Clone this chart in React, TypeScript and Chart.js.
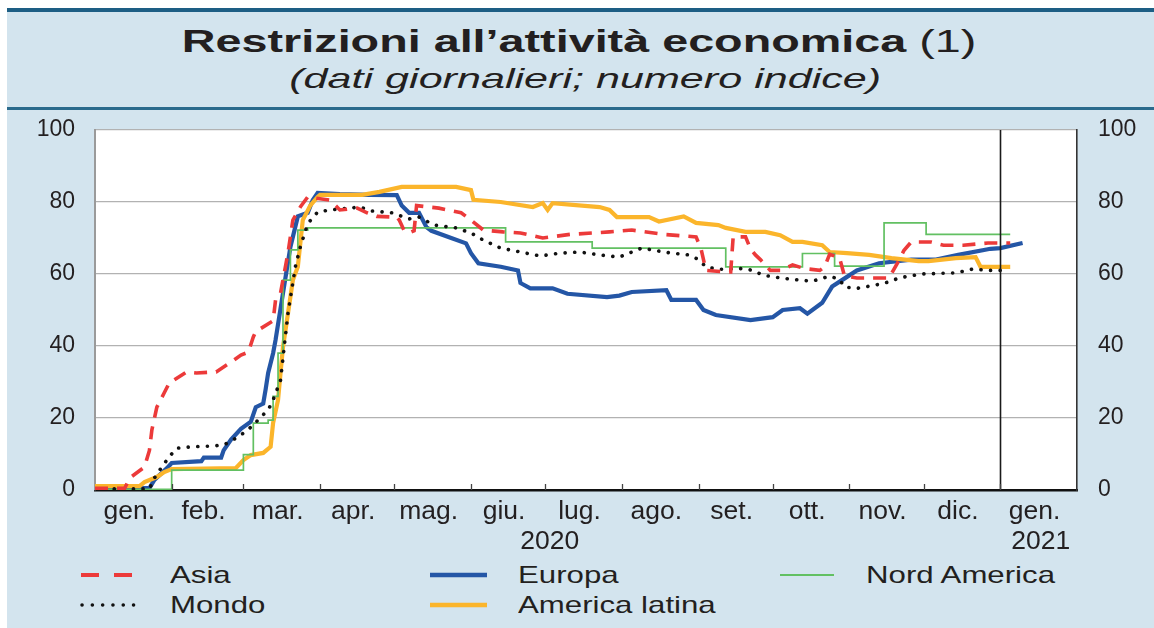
import React, { useEffect, useRef } from "react";
import { Chart, registerables } from "chart.js";

Chart.register(...registerables);

// ---------- axis / label data ----------
const monthStarts = [0, 31, 60, 91, 121, 152, 182, 213, 244, 274, 305, 335, 366, 397];
const monthLabels = ["gen.", "feb.", "mar.", "apr.", "mag.", "giu.", "lug.", "ago.", "set.", "ott.", "nov.", "dic.", "gen."];
const yearLabels = ["2020", "2021"];
const yTicks = [0, 20, 40, 60, 80, 100];
const yearBreakDay = 366;

// ---------- series (day of 2020, index value) ----------
const asiaDays = [0, 12, 14, 20, 22, 23, 25, 28, 30, 37, 41, 49, 56, 59, 62, 64, 65, 72, 73, 75, 78, 80, 83, 86, 95, 99, 106, 110, 114, 122, 123, 125, 127, 129, 130, 139, 148, 152, 157, 165, 172, 181, 192, 208, 217, 230, 243, 245, 247, 254, 257, 258, 263, 265, 267, 269, 273, 277, 282, 287, 293, 295, 297, 301, 303, 308, 321, 324, 327, 330, 338, 343, 351, 361, 370];
const asiaValues = [0.5, 0.5, 3.3, 6.4, 11, 16.7, 23, 27, 29.7, 32.8, 32.5, 32.8, 36, 37.5, 38.3, 42.5, 44, 47, 52.8, 54.7, 65.8, 75, 78.6, 81.4, 80.5, 77.8, 78.3, 77, 76, 75.8, 75, 72, 71.4, 72, 79, 78.3, 77, 75, 72.2, 71.7, 71.4, 70, 71, 71.7, 72.2, 71, 70.3, 67, 61, 60.6, 60.6, 70.3, 70.3, 67, 65.3, 64, 61, 61, 62.5, 61.5, 61, 62, 65.5, 64.5, 59.5, 58.9, 58.9, 62.5, 66.5, 68.9, 68.9, 68, 68, 68.6, 68.6];

const mondoDays = [0, 22, 24, 27, 30, 33, 39, 47, 52, 56, 60, 64, 67, 70, 72, 75, 78, 81, 83, 86, 90, 95, 103, 107, 112, 120, 127, 131, 137, 146, 152, 157, 164, 172, 180, 188, 196, 204, 212, 217, 221, 231, 240, 244, 247, 252, 262, 266, 270, 277, 285, 290, 297, 301, 303, 308, 316, 321, 325, 334, 348, 355, 361, 368];
const mondoValues = [0.3, 0.3, 3.3, 6.4, 9.2, 11.6, 12, 12.2, 12.5, 14, 15.8, 18, 20.3, 22.2, 25, 30.5, 49, 62, 67.5, 74, 77.2, 77.8, 78.3, 78.6, 77.5, 77, 75.3, 75.8, 73.6, 72.8, 71.4, 69.4, 67.2, 66.1, 65, 65.8, 66.1, 65.3, 64.7, 66.1, 67.2, 66, 65.3, 64, 62, 61.3, 61.5, 61, 59.7, 58.9, 58.3, 58, 59.4, 58.5, 56.4, 56, 57, 57.8, 58.9, 60, 60.3, 61.4, 61, 61];

const nordDays = [0, 31, 60, 64, 70, 72, 74, 76, 79, 82, 86, 166, 201, 255, 286, 299, 319, 336, 370];
const nordValues = [0.2, 5.5, 9.8, 18.6, 19.4, 26, 38, 58.3, 66.7, 72.2, 72.8, 68.9, 67.2, 62, 65.7, 62.2, 74.2, 71, 71];

const europaDays = [0, 22, 24, 29, 31, 43, 44, 51, 52, 55, 59, 63, 65, 68, 69, 70, 72, 73, 76, 79, 82, 86, 88, 90, 99, 111, 122, 124, 127, 131, 134, 136, 144, 150, 152, 155, 164, 171, 172, 176, 185, 191, 207, 212, 217, 231, 233, 243, 246, 251, 265, 274, 278, 285, 288, 294, 298, 302, 308, 317, 330, 340, 349, 362, 366, 375];
const europaValues = [0.5, 0.5, 2.8, 6, 7.5, 8, 9, 9, 11, 14, 17, 19, 23, 24, 28, 32.5, 38, 41.7, 54.7, 67.5, 76, 77, 80.5, 82.5, 82.2, 82, 81.9, 79, 77, 77, 73, 72, 70, 68.5, 65.8, 63, 62, 61, 57.5, 56, 56, 54.5, 53.6, 54, 55, 55.5, 52.8, 52.8, 50, 48.6, 47.2, 48, 50, 50.5, 49, 52, 56.5, 58.3, 61, 63, 64, 64, 65.3, 67, 67.2, 68.6];

const latinaDays = [0, 18, 20, 25, 28, 31, 57, 60, 63, 68, 71, 72, 74, 75, 76, 78, 80, 82, 84, 87, 90, 91, 108, 115, 124, 146, 152, 153, 164, 177, 181, 183, 185, 204, 208, 211, 224, 228, 238, 243, 252, 255, 263, 271, 277, 282, 286, 294, 297, 304, 313, 322, 333, 337, 348, 356, 358, 370];
const latinaValues = [1.1, 1.1, 2.2, 3.6, 5, 5.8, 6.1, 8.3, 9.7, 10.3, 12, 18.6, 25, 32.5, 39.7, 49, 58.3, 62, 75, 79, 81.4, 82, 82, 82.8, 84.2, 84.2, 83.3, 80.6, 80, 78.6, 79.7, 77.8, 79.7, 78.6, 77.8, 75.8, 75.8, 74.6, 76, 74.2, 73.6, 72.8, 71.7, 71.7, 70.8, 68.9, 68.9, 68, 66.1, 65.8, 65.3, 64.4, 63.6, 63.6, 64.4, 64.7, 62, 62];

const seriesNames = ["Asia", "Mondo", "Nord America", "America latina", "Europa"];

const FONT = "'Liberation Sans', Arial, Helvetica, sans-serif";
const TEXT = "#231f20";
const RED = "#ec3a3a";
const BLUE = "#2456a6";
const GREEN = "#62c062";
const YELLOW = "#fbb52b";

const toPoints = (d: number[], v: number[]) => d.map((x, i) => ({ x, y: v[i] }));

const decorPlugin = {
  id: "decor",
  beforeDraw(chart: any) {
    const { ctx, chartArea: a } = chart;
    ctx.save();
    ctx.fillStyle = "#ffffff";
    ctx.fillRect(a.left, a.top, a.right - a.left, a.bottom - a.top);
    ctx.restore();
  },
  afterDatasetsDraw(chart: any) {
    const { ctx, chartArea: a } = chart;
    const x = chart.scales.x;
    ctx.save();
    const px = Math.round(x.getPixelForValue(yearBreakDay)) + 0.5;
    ctx.strokeStyle = "#1a1a1a";
    ctx.lineWidth = 1.6;
    ctx.beginPath();
    ctx.moveTo(px, a.top);
    ctx.lineTo(px, a.bottom);
    ctx.stroke();
    ctx.strokeStyle = "#444";
    ctx.lineWidth = 1.3;
    monthStarts.slice(1, -1).forEach((m) => {
      const p = Math.round(x.getPixelForValue(m)) + 0.5;
      ctx.beginPath();
      ctx.moveTo(p, a.bottom);
      ctx.lineTo(p, a.bottom - 6);
      ctx.stroke();
    });
    ctx.restore();
  },
};

function LegendLine(props: { x: number; y: number; w: number; color: string; width: number; dash?: string; cap?: any }) {
  const { x, y, w, color, width, dash, cap } = props;
  return (
    <svg style={{ position: "absolute", left: x, top: y - 6, overflow: "visible" }} width={w} height={12}>
      <line x1={0} y1={6} x2={w} y2={6} stroke={color} strokeWidth={width} strokeDasharray={dash} strokeLinecap={cap || "butt"} />
    </svg>
  );
}

function LegendText(props: { x: number; y: number; text: string }) {
  return (
    <div
      style={{
        position: "absolute",
        left: props.x,
        top: props.y - 13.4,
        fontSize: 24,
        lineHeight: "26.8px",
        whiteSpace: "nowrap",
        color: TEXT,
        transform: "scaleX(1.3)",
        transformOrigin: "left center",
      }}
    >
      {props.text}
    </div>
  );
}

export default function App() {
  const canvasRef = useRef<HTMLCanvasElement | null>(null);

  useEffect(() => {
    document.body.style.margin = "0";
    const canvas = canvasRef.current;
    if (!canvas) return;
    const tickFont = { family: FONT, size: 23 };
    const chart = new Chart(canvas, {
      type: "line",
      data: {
        datasets: [
          { label: seriesNames[0], data: toPoints(asiaDays, asiaValues), borderColor: RED, borderWidth: 3.6, borderDash: [13, 9], pointRadius: 0, order: 0 },
          { label: seriesNames[1], data: toPoints(mondoDays, mondoValues), borderColor: "#111111", borderWidth: 3.6, borderDash: [0.1, 9.5], borderCapStyle: "round", pointRadius: 0, order: 1 },
          { label: seriesNames[2], data: toPoints(nordDays, nordValues), borderColor: GREEN, borderWidth: 1.7, stepped: "before", pointRadius: 0, order: 2 },
          { label: seriesNames[3], data: toPoints(latinaDays, latinaValues), borderColor: YELLOW, borderWidth: 4.2, pointRadius: 0, order: 3 },
          { label: seriesNames[4], data: toPoints(europaDays, europaValues), borderColor: BLUE, borderWidth: 4.2, pointRadius: 0, order: 4 },
        ] as any,
      },
      options: {
        animation: false,
        responsive: true,
        maintainAspectRatio: false,
        layout: { padding: { top: 20, left: 0, right: 0, bottom: 0 } },
        plugins: { legend: { display: false }, tooltip: { enabled: false }, title: { display: false } },
        elements: { line: { tension: 0 } },
        scales: {
          x: {
            type: "linear",
            position: "bottom",
            min: monthStarts[0],
            max: monthStarts[monthStarts.length - 1],
            weight: 0,
            afterBuildTicks: (s: any) => {
              s.ticks = monthLabels.map((_, i) => ({ value: (monthStarts[i] + monthStarts[i + 1]) / 2 }));
            },
            ticks: {
              autoSkip: false,
              maxRotation: 0,
              font: { family: FONT, size: 26.5 },
              color: TEXT,
              padding: 6,
              labelOffset: -4,
              callback: (_v: any, i: number) => monthLabels[i],
            },
            grid: { display: false, drawTicks: false },
            border: { display: true, color: "#111111", width: 2.6 },
            afterFit: (s: any) => {
              s.height = 36;
            },
          },
          xYear: {
            type: "linear",
            position: "bottom",
            min: monthStarts[0],
            max: monthStarts[monthStarts.length - 1],
            weight: 1,
            afterBuildTicks: (s: any) => {
              s.ticks = [
                { value: (monthStarts[0] + monthStarts[12]) / 2 },
                { value: (monthStarts[12] + monthStarts[13]) / 2 },
              ];
            },
            ticks: {
              autoSkip: false,
              maxRotation: 0,
              font: { family: FONT, size: 26.5 },
              color: TEXT,
              padding: 0,
              labelOffset: 2,
              callback: (_v: any, i: number) => yearLabels[i],
            },
            grid: { display: false, drawTicks: false },
            border: { display: false },
            afterFit: (s: any) => {
              s.height = 30;
            },
          },
          y: {
            position: "left",
            min: 0,
            max: 100,
            afterBuildTicks: (s: any) => {
              s.ticks = yTicks.map((v) => ({ value: v }));
            },
            ticks: { font: tickFont, color: TEXT, padding: 3 },
            grid: { color: "#b2b2b2", lineWidth: 1.3, drawTicks: true, tickLength: 17, tickColor: "rgba(0,0,0,0)" },
            border: { color: "#9a9a9a", width: 2 },
            afterFit: (s: any) => {
              s.width = 95;
            },
          },
          y2: {
            position: "right",
            min: 0,
            max: 100,
            afterBuildTicks: (s: any) => {
              s.ticks = yTicks.map((v) => ({ value: v }));
            },
            ticks: { font: tickFont, color: TEXT, padding: 3 },
            grid: { display: true, drawOnChartArea: false, drawTicks: true, tickLength: 18, tickColor: "rgba(0,0,0,0)" },
            border: { color: "#333333", width: 1.6 },
            afterFit: (s: any) => {
              s.width = 77;
            },
          },
        } as any,
      },
      plugins: [decorPlugin],
    });
    return () => chart.destroy();
  }, []);

  return (
    <div
      style={{
        position: "absolute",
        left: 0,
        top: 0,
        width: 1154,
        height: 628,
        background: "#ffffff",
        overflow: "hidden",
        fontFamily: FONT,
      }}
    >
      <div style={{ position: "absolute", left: 7, top: 8, right: 0, bottom: 0, background: "#d3e4ee" }} />
      <div style={{ position: "absolute", left: 7, top: 8, right: 0, height: 4, background: "#1d5e84" }} />
      <div style={{ position: "absolute", left: 7, top: 107, right: 0, height: 2.5, background: "#2a6a8c" }} />

      <div style={{ position: "absolute", left: 2, top: 24, width: 1154, textAlign: "center", whiteSpace: "nowrap", color: TEXT }}>
        <span style={{ display: "inline-block", fontSize: 32, lineHeight: "35.7px", transform: "scaleX(1.46)", transformOrigin: "center" }}>
          <b>Restrizioni all’attività economica</b> (1)
        </span>
      </div>
      <div style={{ position: "absolute", left: 8, top: 62.7, width: 1154, textAlign: "center", whiteSpace: "nowrap", color: TEXT }}>
        <span style={{ display: "inline-block", fontSize: 28, lineHeight: "31.3px", fontStyle: "italic", transform: "scaleX(1.54)", transformOrigin: "center" }}>
          (dati giornalieri; numero indice)
        </span>
      </div>

      <div style={{ position: "absolute", left: 0, top: 110, width: 1154, height: 446 }}>
        <canvas ref={canvasRef} />
      </div>

      <LegendLine x={81} y={575} w={52} color={RED} width={4} dash="18 15" />
      <LegendText x={170} y={575} text={seriesNames[0]} />
      <LegendLine x={430} y={575} w={57} color={BLUE} width={4.5} />
      <LegendText x={518} y={575} text={seriesNames[4]} />
      <LegendLine x={780} y={575} w={54} color={GREEN} width={2} />
      <LegendText x={866} y={575} text={seriesNames[2]} />
      <LegendLine x={82} y={605} w={52} color="#111111" width={3.5} dash="0.1 10.2" cap="round" />
      <LegendText x={170} y={605} text={seriesNames[1]} />
      <LegendLine x={430} y={605} w={57} color={YELLOW} width={4.5} />
      <LegendText x={518} y={605} text={seriesNames[3]} />
    </div>
  );
}
